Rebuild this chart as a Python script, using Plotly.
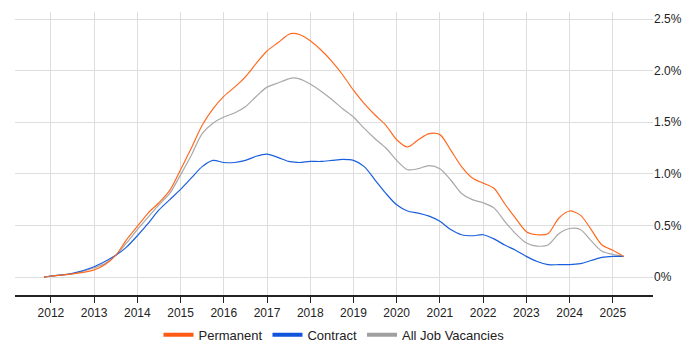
import plotly.graph_objects as go

years = [2011.84, 2012, 2012.5, 2013, 2013.25, 2013.5, 2013.75, 2014, 2014.25, 2014.5, 2014.75,
         2015, 2015.25, 2015.5, 2015.75, 2016, 2016.25, 2016.5, 2016.75, 2017, 2017.25, 2017.5,
         2017.6, 2017.75, 2018, 2018.25, 2018.5, 2018.75, 2019, 2019.25, 2019.5, 2019.75,
         2020, 2020.25, 2020.5, 2020.75, 2021, 2021.25, 2021.5, 2021.75, 2022, 2022.25,
         2022.5, 2022.75, 2023, 2023.25, 2023.5, 2023.75, 2024, 2024.25, 2024.5, 2024.75,
         2025, 2025.25]

permanent = [0.00, 0.01, 0.03, 0.07, 0.12, 0.21, 0.36, 0.49, 0.62, 0.72, 0.84,
             1.04, 1.25, 1.47, 1.63, 1.75, 1.84, 1.94, 2.07, 2.19, 2.27, 2.35,
             2.36, 2.35, 2.29, 2.20, 2.09, 1.96, 1.81, 1.68, 1.57, 1.47,
             1.33, 1.26, 1.33, 1.39, 1.38, 1.23, 1.07, 0.96, 0.91, 0.86,
             0.71, 0.57, 0.44, 0.41, 0.42, 0.57, 0.64, 0.60, 0.46, 0.31,
             0.26, 0.20]

contract = [0.00, 0.01, 0.035, 0.10, 0.15, 0.21, 0.29, 0.40, 0.52, 0.65, 0.75,
            0.85, 0.96, 1.07, 1.13, 1.11, 1.11, 1.13, 1.17, 1.19, 1.16, 1.12,
            1.115, 1.11, 1.12, 1.12, 1.13, 1.14, 1.13, 1.07, 0.94, 0.81,
            0.70, 0.64, 0.62, 0.59, 0.54, 0.46, 0.41, 0.40, 0.41, 0.37,
            0.31, 0.26, 0.20, 0.15, 0.12, 0.12, 0.12, 0.13, 0.16, 0.19,
            0.20, 0.20]

all_jobs = [0.00, 0.01, 0.03, 0.09, 0.13, 0.21, 0.33, 0.46, 0.58, 0.70, 0.81,
            0.99, 1.18, 1.39, 1.49, 1.55, 1.59, 1.65, 1.75, 1.84, 1.88, 1.92,
            1.93, 1.92, 1.87, 1.80, 1.72, 1.63, 1.55, 1.44, 1.34, 1.25,
            1.13, 1.04, 1.05, 1.08, 1.05, 0.94, 0.81, 0.75, 0.72, 0.67,
            0.54, 0.42, 0.33, 0.30, 0.31, 0.42, 0.47, 0.46, 0.35, 0.25,
            0.22, 0.20]

x_ticks = list(range(2012, 2026))
y_ticks = [0, 0.5, 1.0, 1.5, 2.0, 2.5]
y_tick_labels = ["0%", "0.5%", "1.0%", "1.5%", "2.0%", "2.5%"]

series = [("Permanent", permanent, "#ff6a21", "#ff5a14"),
          ("Contract", contract, "#1a5fdc", "#1155dd"),
          ("All Job Vacancies", all_jobs, "#a8a8a8", "#a0a0a0")]

fig = go.Figure()
# data lines, gray drawn first (behind)
for name, vals, color, _ in reversed(series):
    fig.add_trace(go.Scatter(x=years, y=vals, name=name, mode="lines", showlegend=False,
                             line=dict(color=color, width=1.2, shape="spline", smoothing=0.8)))
# legend entries with thick short bars
for name, _, _, lcolor in series:
    fig.add_trace(go.Scatter(x=[None], y=[None], name=name, mode="lines",
                             line=dict(color=lcolor, width=4)))

# the page body has an 8px default margin, so the figure is 692x342
fig.update_layout(
    width=692, height=342,
    margin=dict(l=7, r=47, t=4, b=55, autoexpand=False),
    paper_bgcolor="white", plot_bgcolor="white",
    font=dict(family="Liberation Sans, Arial, sans-serif", size=12, color="#222"),
    showlegend=True,
    legend=dict(orientation="h", x=0.5, xanchor="center", y=-0.141, yanchor="middle",
                itemwidth=30, font=dict(size=13, color="#222")),
    xaxis=dict(range=[2011.17, 2025.93], tickvals=x_ticks, ticktext=[str(v) for v in x_ticks],
               showgrid=True, gridcolor="#dddddd", gridwidth=1,
               showline=True, linecolor="#222", linewidth=1.5,
               ticks="outside", ticklen=6, tickcolor="#222", zeroline=False,
               tickfont=dict(size=12)),
    yaxis=dict(range=[-0.174, 2.568], side="right", tickvals=y_ticks, ticktext=y_tick_labels,
               showgrid=True, gridcolor="#dddddd", gridwidth=1, zeroline=False,
               showline=False, ticks="", tickfont=dict(size=12)),
)

fig.write_html("out.html")
